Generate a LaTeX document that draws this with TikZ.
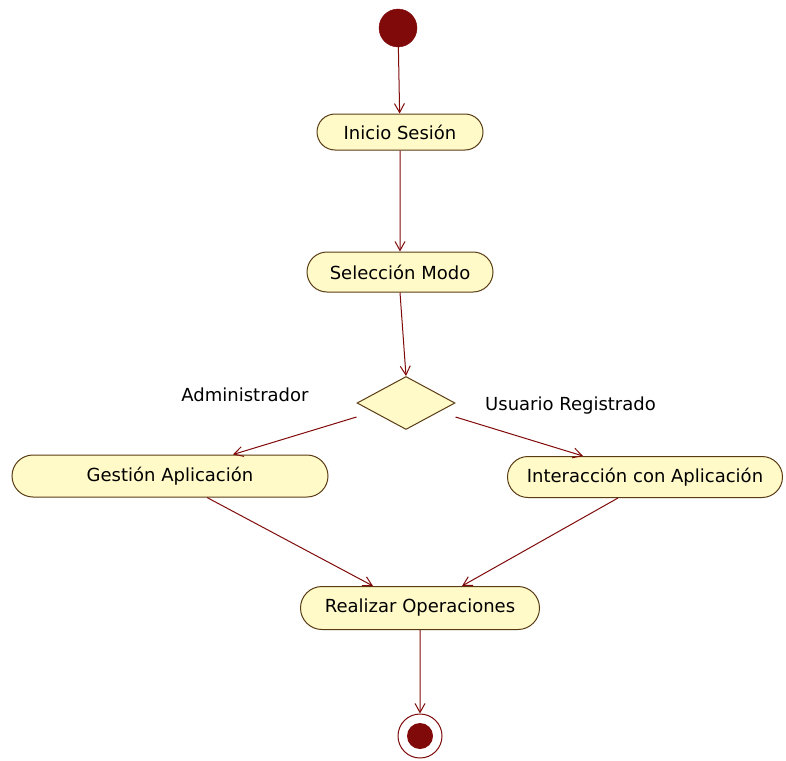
\documentclass[tikz,border=0pt]{standalone}
\usepackage{fontspec}
\setmainfont{DejaVu Sans}
\usetikzlibrary{shapes.misc,shapes.geometric,arrows.meta}
\definecolor{actfill}{RGB}{255,250,200}
\definecolor{actdraw}{RGB}{90,60,20}
\definecolor{flow}{RGB}{128,10,10}
\begin{document}
\begin{tikzpicture}[x=1pt,y=-1pt,
  act/.style={rounded rectangle, draw=actdraw, fill=actfill, line width=1pt, inner sep=0pt, font=\fontsize{18}{21}\selectfont},
  dec/.style={diamond, draw=actdraw, fill=actfill, line width=1pt, inner sep=0pt, minimum width=98pt, minimum height=53pt, aspect=1.85},
  lbl/.style={font=\fontsize{18}{21}\selectfont, inner sep=0pt},
  flowarrow/.style={draw=flow, line width=1pt, -{Straight Barb[length=9pt,width=10pt]}}]
\path[use as bounding box] (0,0) rectangle (786,760);
\node[circle, fill=flow, draw=flow, minimum size=38pt, inner sep=0pt] (start) at (398,28) {};
\node[act, minimum width=166pt, minimum height=36pt] (inicio) at (400,132) {Inicio Sesión};
\node[act, minimum width=186pt, minimum height=40pt] (sel) at (400,272) {Selección Modo};
\node[dec] (choice) at (406,403) {};
\node[lbl] (ladmin) at (245,395) {Administrador};
\node[lbl, anchor=west] (lusr) at (485,406) {Usuario Registrado};
\node[act, minimum width=316pt, minimum height=42pt] (gest) at (170,476) {Gestión Aplicación};
\node[act, minimum width=275pt, minimum height=41pt] (inter) at (645,477) {Interacción con Aplicación};
\node[act, minimum width=239pt, minimum height=43pt] (real) at (420,608) {Realizar Operaciones};
\node[circle, draw=flow, fill=white, line width=1pt, minimum size=44pt, inner sep=0pt] (fin) at (420,736) {};
\node[circle, fill=flow, minimum size=26pt, inner sep=0pt] (finin) at (fin) {};
\draw[flowarrow] (start) -- (inicio);
\draw[flowarrow] (inicio) -- (sel);
\draw[flowarrow] (sel.south) -- (choice.north);
\draw[flowarrow] ([yshift=-14pt]choice.west) -- ([xshift=63pt]gest.north);
\draw[flowarrow] ([yshift=-14pt]choice.east) -- ([xshift=-62pt]inter.north);
\draw[flowarrow] ([xshift=37pt]gest.south) -- ([xshift=-47pt]real.north);
\draw[flowarrow] ([xshift=-27pt]inter.south) -- ([xshift=42pt]real.north);
\draw[flowarrow] (real) -- (fin);
\end{tikzpicture}
\end{document}
